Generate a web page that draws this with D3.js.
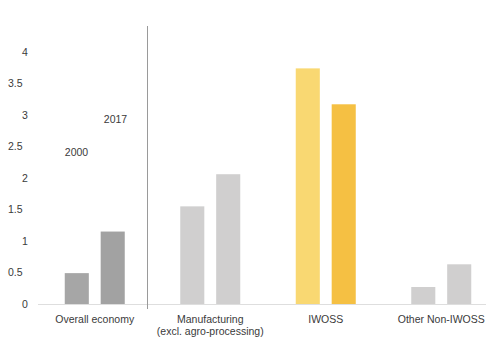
<!DOCTYPE html>
<html>
<head>
<meta charset="utf-8">
<script src="https://cdn.jsdelivr.net/npm/d3@7"></script>
<style>
  html, body { margin: 0; padding: 0; background: #fff; }
  svg text { font-family: "Liberation Sans", Arial, sans-serif; fill: #3a3a3a; }
</style>
</head>
<body>
<svg id="chart" width="486" height="338"></svg>
<script>
// ---- data ----
const categories = ["Overall economy", "Manufacturing\n(excl. agro-processing)", "IWOSS", "Other Non-IWOSS"];
const values2000 = [0.49, 1.55, 3.74, 0.27];
const values2017 = [1.15, 2.06, 3.17, 0.63];
const yTicks = [0, 0.5, 1, 1.5, 2, 2.5, 3, 3.5, 4];
const seriesLabels = ["2000", "2017"];
const colors2000 = ["#a6a6a6", "#d0cfcf", "#f9d872", "#d0cfcf"];
const colors2017 = ["#a2a2a2", "#d0cfcf", "#f5c043", "#d0cfcf"];

// ---- layout ----
const svg = d3.select("#chart");
const baseY = 304;
const y = d3.scaleLinear().domain([0, 4]).range([baseY, 52]);
const x = d3.scaleBand().domain(categories).range([37, 499]).paddingInner(0).paddingOuter(0);
const inner = d3.scaleBand().domain(seriesLabels).range([0, 60]).paddingInner(0.33).paddingOuter(0);

// baseline
svg.append("line")
  .attr("x1", 38).attr("x2", 486)
  .attr("y1", baseY + 0.5).attr("y2", baseY + 0.5)
  .attr("stroke", "#dedede").attr("stroke-width", 1.2);

// separator
svg.append("line")
  .attr("x1", 147.5).attr("x2", 147.5)
  .attr("y1", 26).attr("y2", 309)
  .attr("stroke", "#9a9a9a").attr("stroke-width", 1);

// y tick labels
svg.append("g").selectAll("text").data(yTicks).join("text")
  .attr("x", d => Number.isInteger(d) ? 22 : 8)
  .attr("y", d => y(d))
  .attr("dy", "0.35em")
  .attr("font-size", 10.5)
  .text(d => d);

// bars
const groups = svg.append("g").selectAll("g").data(categories).join("g")
  .attr("transform", d => `translate(${x(d) + x.bandwidth() / 2 - 30},0)`);

groups.append("rect")
  .attr("x", inner("2000"))
  .attr("width", inner.bandwidth())
  .attr("y", (d, i) => y(values2000[i]))
  .attr("height", (d, i) => baseY - y(values2000[i]))
  .attr("fill", (d, i) => colors2000[i]);

groups.append("rect")
  .attr("x", inner("2017"))
  .attr("width", inner.bandwidth())
  .attr("y", (d, i) => y(values2017[i]))
  .attr("height", (d, i) => baseY - y(values2017[i]))
  .attr("fill", (d, i) => colors2017[i]);

// category labels
groups.append("text")
  .attr("x", 30)
  .attr("y", 323)
  .attr("text-anchor", "middle")
  .attr("font-size", 10.5)
  .selectAll("tspan")
  .data(d => d.split("\n"))
  .join("tspan")
  .attr("x", 30)
  .attr("dy", (d, i) => i === 0 ? 0 : 12)
  .text(d => d);

// series annotations
svg.append("text").attr("x", 76.5).attr("y", 155.5).attr("text-anchor", "middle")
  .attr("font-size", 10.5).text(seriesLabels[0]);
svg.append("text").attr("x", 115.5).attr("y", 123).attr("text-anchor", "middle")
  .attr("font-size", 10.5).text(seriesLabels[1]);
</script>
</body>
</html>
